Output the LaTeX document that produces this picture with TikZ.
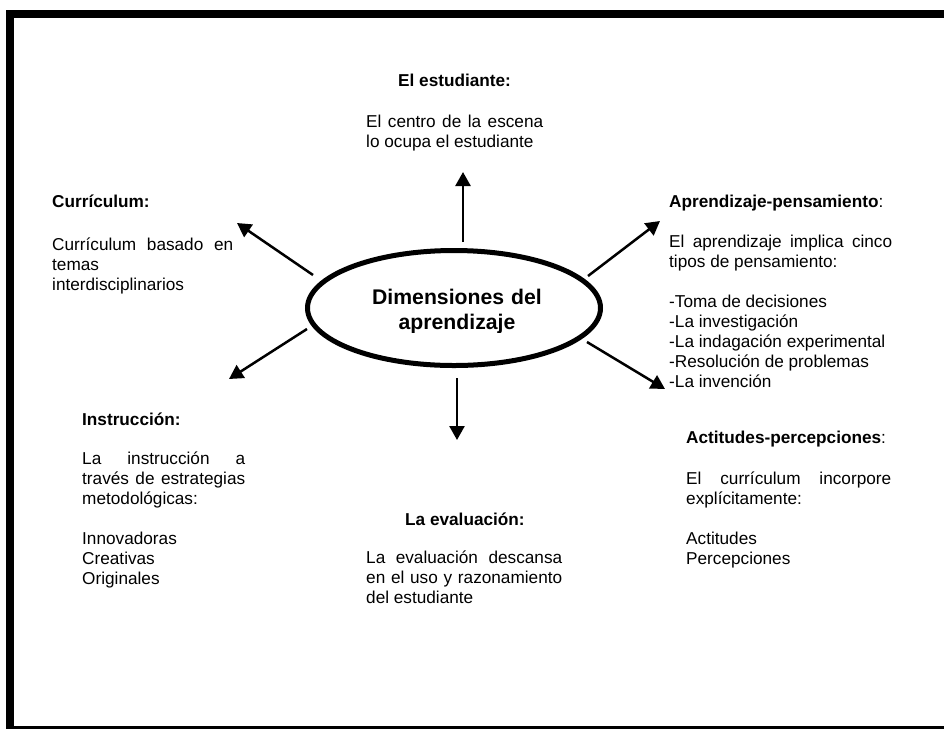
\documentclass[tikz,border=0pt]{standalone}
\usepackage{fontspec}
\setmainfont{Liberation Sans}
\usetikzlibrary{arrows.meta,shapes.geometric}
\hyphenpenalty=10000
\exhyphenpenalty=10000

\begin{document}
\begin{tikzpicture}[x=1pt,y=-1pt,
    head/.style={anchor=base west,inner sep=0pt,font=\fontsize{17.2}{20}\selectfont\bfseries},
    body/.style={anchor=base west,inner sep=0pt,align=justify,font=\fontsize{17.2}{20}\selectfont},
    spoke/.style={line width=2.5pt,-{Triangle[length=14pt,width=15pt]}}]
    \newcommand{\skipline}{\\[20pt]}
    \useasboundingbox (0,0) rectangle (944,729);
    % frame
    \fill (6,10) rectangle (944,18);
    \fill (6,10) rectangle (14,729);
    \fill (6,726) rectangle (944,729);
    % centre
    \node[draw,ellipse,line width=5pt,minimum width=293pt,minimum height=115pt] (dim) at (454,308) {};
    \begin{scope}
    \clip (300,250) rectangle (610,332);
    \node[anchor=base,inner sep=0pt,text width=260pt,align=center,font=\fontsize{21.2}{25}\selectfont\bfseries] (dimtext) at (457,304) {Dimensiones del\\aprendizaje};
    \end{scope}
    % arrow ends
    \coordinate (upS) at (463,242);
    \coordinate (upE) at (463,172);
    \coordinate (downS) at (457,378);
    \coordinate (downE) at (457,440);
    \coordinate (ulS) at (313,275);
    \coordinate (ulE) at (237,223);
    \coordinate (llS) at (307,329);
    \coordinate (llE) at (229,379);
    \coordinate (urS) at (588,276);
    \coordinate (urE) at (660,221);
    \coordinate (lrS) at (587,342);
    \coordinate (lrE) at (665,389);
    \draw[spoke] (upS) -- (upE);
    \draw[spoke] (downS) -- (downE);
    \draw[spoke] (ulS) -- (ulE);
    \draw[spoke] (llS) -- (llE);
    \draw[spoke] (urS) -- (urE);
    \draw[spoke] (lrS) -- (lrE);
    % texts
    \node[head] (estH) at (398,86) {El estudiante:};
    \node[body,text width=177pt] (estB) at (366,127) {El centro de la escena\linebreak lo ocupa el estudiante};
    \node[head] (curH) at (52,207) {Currículum:};
    \node[body,text width=181pt] (curB) at (52,250) {Currículum basado en\linebreak temas\\ interdisciplinarios};
    \node[head] (insH) at (82,425) {Instrucción:};
    \node[body,text width=163pt] (insB) at (82,464) {La instrucción a\linebreak través de estrategias\linebreak metodológicas:\skipline Innovadoras\\ Creativas\\ Originales};
    \node[head] (evaH) at (405,525) {La evaluación:};
    \node[body,text width=196pt] (evaB) at (366,563) {La evaluación descansa\linebreak en el uso y razonamiento\linebreak del estudiante};
    \node[head] (apeH) at (669,207) {Aprendizaje-pensamiento\textmd{:}};
    \node[body,text width=223pt] (apeB) at (669,247) {El aprendizaje implica cinco\linebreak tipos de pensamiento:\skipline -Toma de decisiones\\ -La investigación\\ -La indagación experimental\\ -Resolución de problemas\\ -La invención};
    \node[head] (actH) at (686,443) {Actitudes-percepciones\textmd{:}};
    \node[body,text width=205pt] (actB) at (686,484) {El currículum incorpore\linebreak explícitamente:\skipline Actitudes\\ Percepciones};
\end{tikzpicture}
\end{document}
